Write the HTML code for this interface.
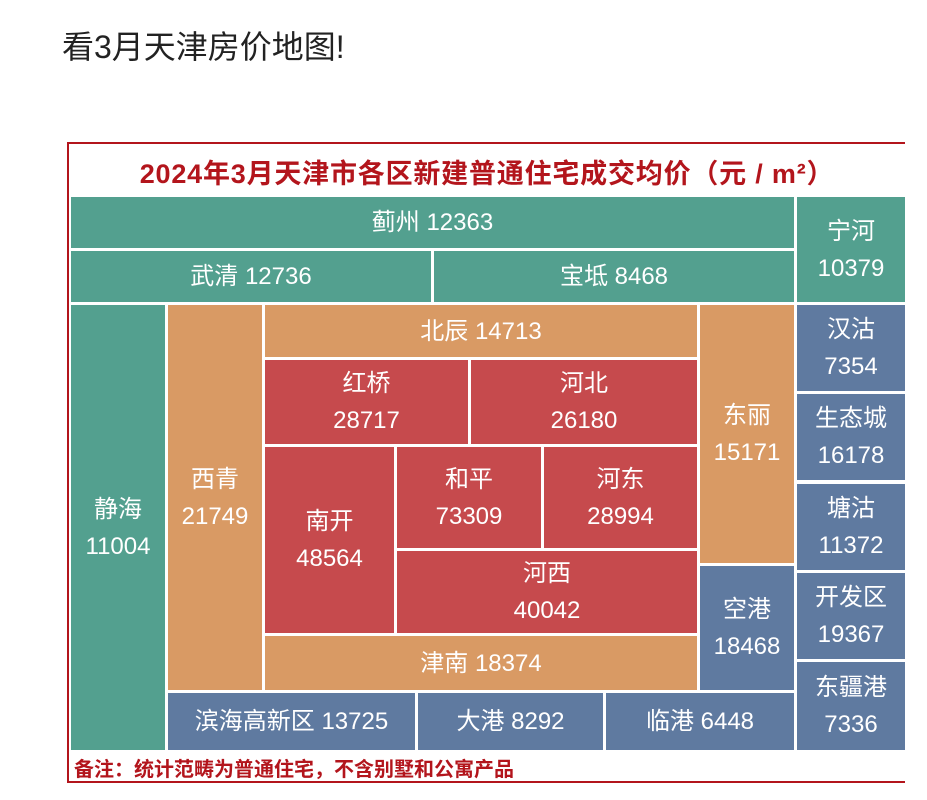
<!DOCTYPE html>
<html><head><meta charset="utf-8"><style>
body{margin:0;width:927px;height:800px;background:#fff;position:relative;overflow:hidden;font-family:"Liberation Sans","Noto Sans CJK SC",sans-serif}
.h{position:absolute;left:62px;top:22px;font-size:32px;color:#222}
.frame{position:absolute;left:67px;top:142px;width:838px;height:641px;border:2px solid #b3151c;border-right:none;box-sizing:border-box}
.t{position:absolute;left:69px;top:152px;width:836px;text-align:center;font-size:27px;font-weight:bold;color:#b3151c;letter-spacing:0.8px}
.c{position:absolute;display:flex;flex-direction:column;align-items:center;justify-content:center;color:#fff;font-size:24px;line-height:37px;text-align:center}
.g{background:#53a08f}.o{background:#d99a64}.r{background:#c64a4d}.b{background:#5f7aa0}
.n{position:absolute;left:74px;top:753px;font-size:20px;color:#b3151c;font-weight:bold}
</style></head><body>
<div class="h">看3月天津房价地图!</div>
<div class="frame"></div>
<div class="t">2024年3月天津市各区新建普通住宅成交均价（元 / m²）</div>
<div class="c g" style="left:71px;top:197px;width:723px;height:51px">蓟州 12363</div>
<div class="c g" style="left:71px;top:251px;width:360px;height:51px">武清 12736</div>
<div class="c g" style="left:434px;top:251px;width:360px;height:51px">宝坻 8468</div>
<div class="c g" style="left:797px;top:197px;width:108px;height:105px">宁河<br>10379</div>
<div class="c g" style="left:71px;top:305px;width:94px;height:445px">静海<br>11004</div>
<div class="c o" style="left:168px;top:305px;width:94px;height:385px">西青<br>21749</div>
<div class="c o" style="left:265px;top:305px;width:432px;height:52px">北辰 14713</div>
<div class="c r" style="left:265px;top:360px;width:203px;height:84px">红桥<br>28717</div>
<div class="c r" style="left:471px;top:360px;width:226px;height:84px">河北<br>26180</div>
<div class="c r" style="left:265px;top:447px;width:129px;height:186px">南开<br>48564</div>
<div class="c r" style="left:397px;top:447px;width:144px;height:101px">和平<br>73309</div>
<div class="c r" style="left:544px;top:447px;width:153px;height:101px">河东<br>28994</div>
<div class="c r" style="left:397px;top:551px;width:300px;height:82px">河西<br>40042</div>
<div class="c o" style="left:265px;top:636px;width:432px;height:54px">津南 18374</div>
<div class="c o" style="left:700px;top:305px;width:94px;height:258px">东丽<br>15171</div>
<div class="c b" style="left:700px;top:566px;width:94px;height:124px">空港<br>18468</div>
<div class="c b" style="left:168px;top:693px;width:247px;height:57px">滨海高新区 13725</div>
<div class="c b" style="left:418px;top:693px;width:185px;height:57px">大港 8292</div>
<div class="c b" style="left:606px;top:693px;width:188px;height:57px">临港 6448</div>
<div class="c b" style="left:797px;top:305px;width:108px;height:86px">汉沽<br>7354</div>
<div class="c b" style="left:797px;top:394px;width:108px;height:86px">生态城<br>16178</div>
<div class="c b" style="left:797px;top:484px;width:108px;height:86px">塘沽<br>11372</div>
<div class="c b" style="left:797px;top:573px;width:108px;height:86px">开发区<br>19367</div>
<div class="c b" style="left:797px;top:662px;width:108px;height:88px">东疆港<br>7336</div>
<div class="n">备注：统计范畴为普通住宅，不含别墅和公寓产品</div>
</body></html>
